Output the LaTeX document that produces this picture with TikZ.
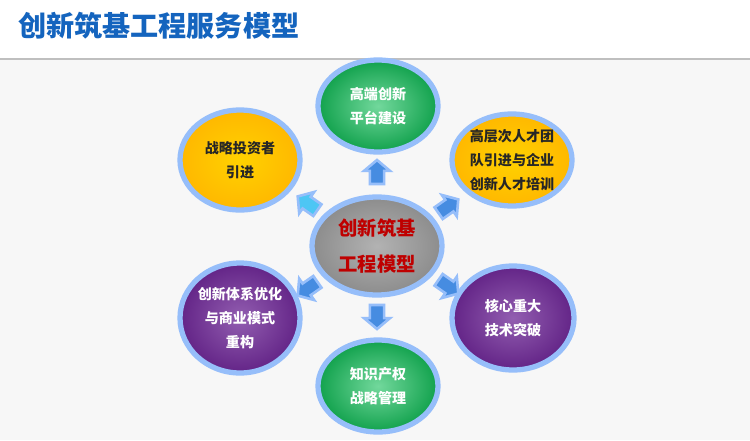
\documentclass[tikz,border=0pt]{standalone}
\usepackage{fontspec}
\setmainfont{Noto Sans CJK SC}
\usetikzlibrary{shapes.arrows,shapes.geometric}
\newlength{\unit}\setlength{\unit}{0.02cm}
\definecolor{titleblue}{RGB}{20,100,190}
\definecolor{glow}{RGB}{150,190,250}
\definecolor{grn}{RGB}{20,190,90}
\definecolor{ylw}{RGB}{255,190,0}
\definecolor{prp}{RGB}{110,40,150}
\definecolor{arr}{RGB}{70,140,225}
\tikzset{
  bubble/.style={ellipse, draw=glow, line width=3pt, minimum width=120\unit, minimum height=92\unit,
    align=center, font=\bfseries\fontsize{8}{13.5}\selectfont, inner sep=0pt},
  greenb/.style={bubble, inner color=grn!60, outer color=grn!85!black, text=white},
  yellowb/.style={bubble, inner color=ylw!70!yellow, outer color=ylw!90!orange, text=black!85},
  purpleb/.style={bubble, inner color=prp!75, outer color=prp!90!black, text=white},
  outarrow/.style={single arrow, draw=glow, line width=1.5pt, fill=arr, minimum width=26\unit,
    single arrow head extend=4\unit, single arrow tip angle=100, minimum height=24\unit, inner sep=2pt},
}
\begin{document}
\begin{tikzpicture}[x=0.02cm, y=-0.02cm]
\useasboundingbox[fill=white] (0,0) rectangle (750,440);
\fill[black!3] (0,60) rectangle (750,440);
\node[anchor=west, text=titleblue, font=\bfseries\fontsize{16}{18}\selectfont] (title) at (12,26) {创新筑基工程服务模型};
\coordinate (ruleL) at (0,59);
\coordinate (ruleR) at (750,59);
\draw[black!25, line width=0.8pt] (ruleL) -- (ruleR);

\node[ellipse, draw=glow, line width=3pt, inner color=black!30, outer color=black!45,
  minimum width=130\unit, minimum height=98\unit, align=center, text=red!75!black,
  font=\bfseries\fontsize{11}{20}\selectfont] (core) at (377,246) {创新筑基\\工程模型};

\node[greenb] (platform) at (378,106) {高端创新\\平台建设};
\node[yellowb] (talent) at (512,160) {高层次人才团\\队引进与企业\\创新人才培训};
\node[purpleb, minimum width=122\unit, minimum height=104\unit] (tech) at (513,318) {核心重大\\技术突破};
\node[greenb] (ip) at (378,386) {知识产权\\战略管理};
\node[purpleb, minimum height=110\unit] (system) at (240,318) {创新体系优化\\与商业模式\\重构};
\node[yellowb, minimum height=100\unit] (investor) at (240,160) {战略投资者\\引进};

\node[outarrow, rotate=90] (a1) at (377,175) {};
\node[outarrow, rotate=35] (a2) at (446,208) {};
\node[outarrow, rotate=-35] (a3) at (446,285) {};
\node[outarrow, rotate=-90] (a4) at (377,314) {};
\node[outarrow, rotate=-145] (a5) at (310,287) {};
\node[outarrow, rotate=145, fill=cyan!70] (a6) at (310,205) {};
\end{tikzpicture}
\end{document}
